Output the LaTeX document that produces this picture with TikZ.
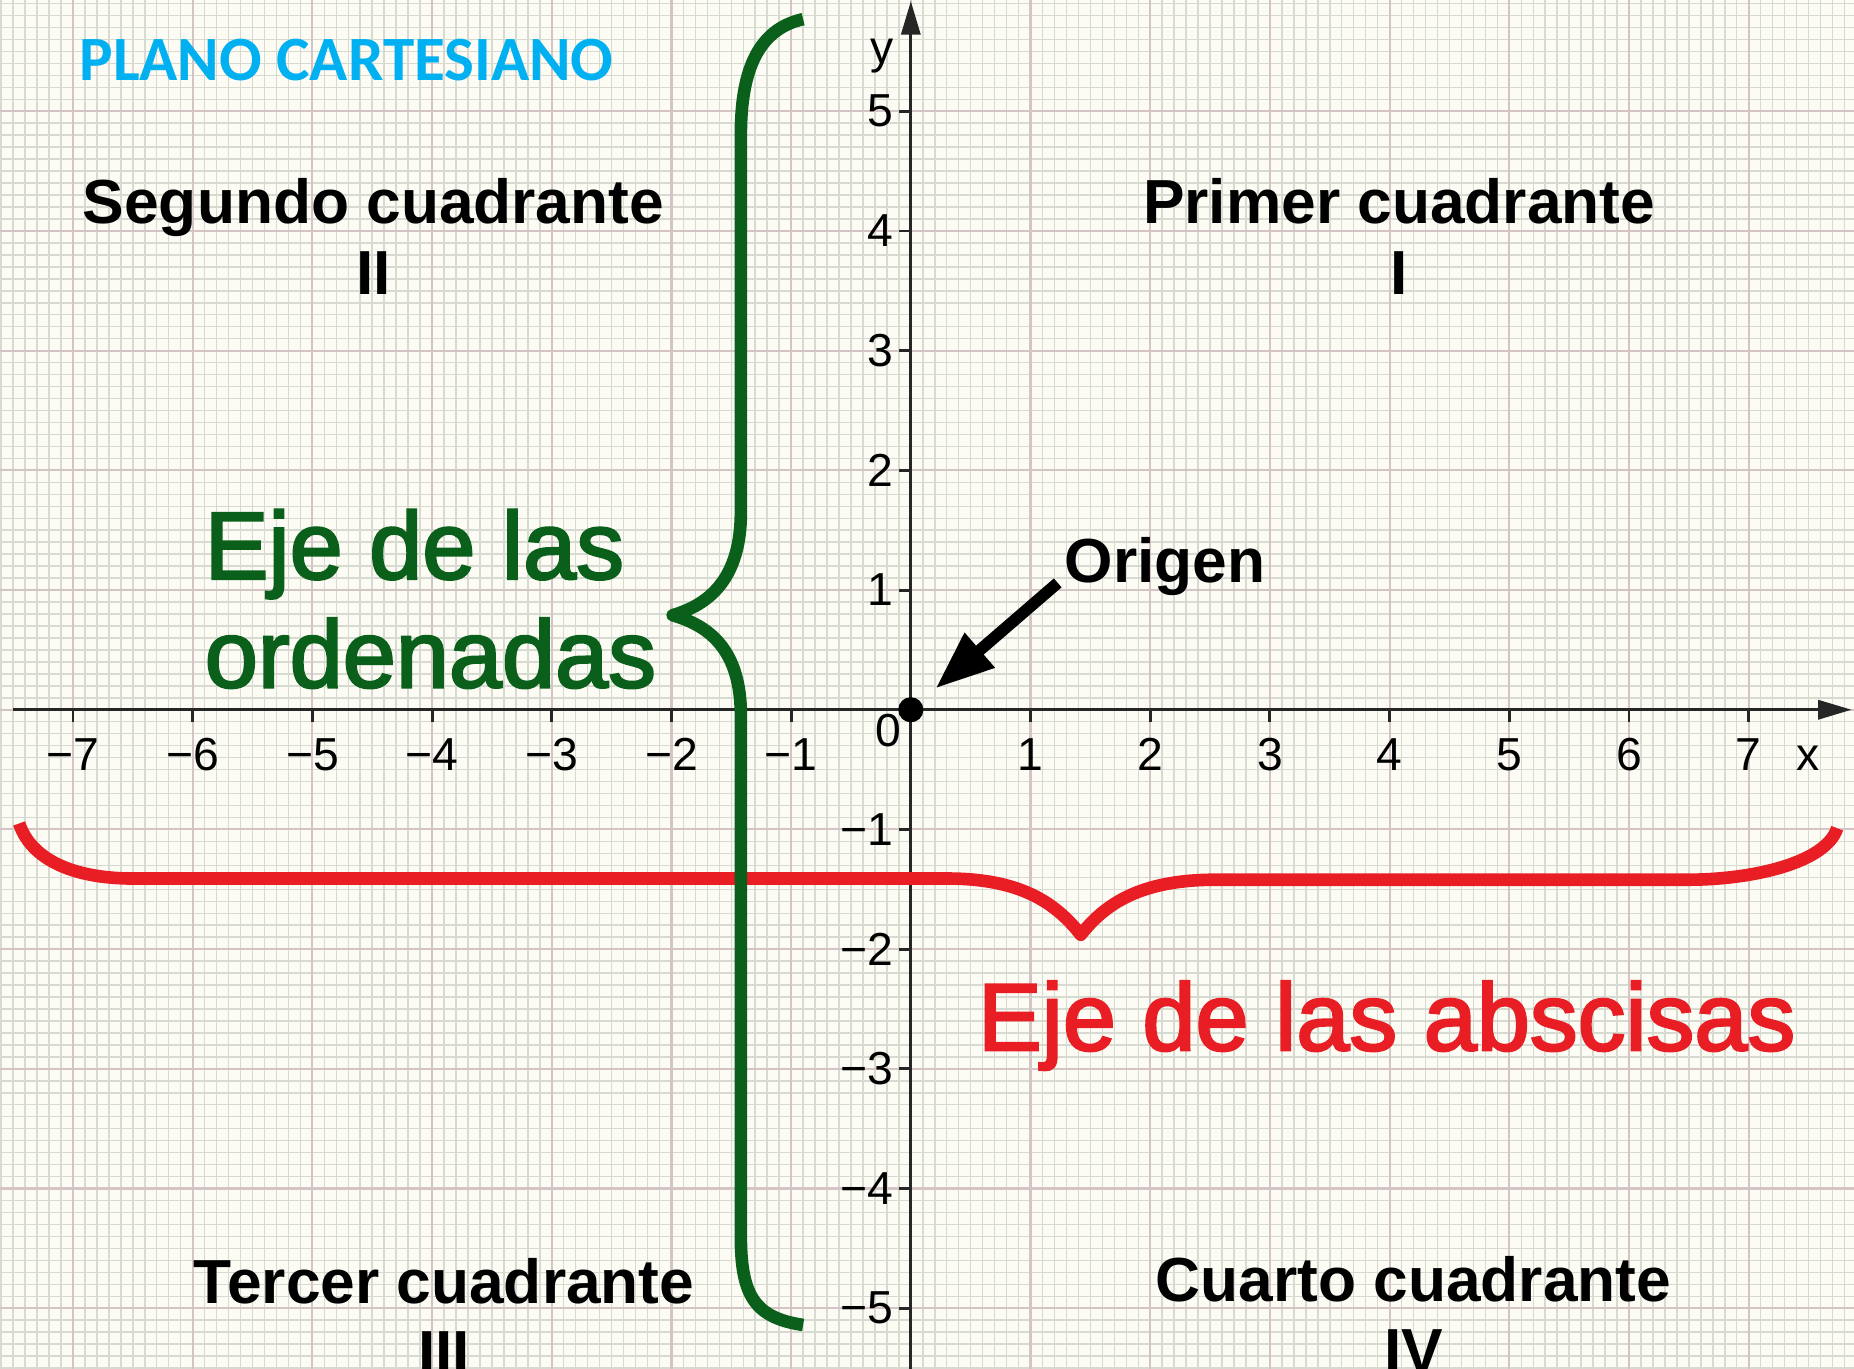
\documentclass[tikz,border=0pt]{standalone}
\usepackage{fontspec}
\setmainfont{Liberation Sans}
\newfontfamily\titlefont{Carlito}
\newfontfamily\axisnamefont[FakeBold=2.5]{Liberation Sans}
\usetikzlibrary{arrows.meta}
\definecolor{paper}{RGB}{252,252,245}
\definecolor{minorline}{RGB}{214,218,208}
\definecolor{majorline}{RGB}{212,196,198}
\definecolor{ordgreen}{RGB}{10,96,26}
\definecolor{absred}{RGB}{232,30,36}
\definecolor{titleblue}{RGB}{0,176,240}
\newcommand{\ticklab}[1]{\ifnum#1<0 −\the\numexpr0-(#1)\relax\else#1\fi}

\begin{document}
\begin{tikzpicture}[minor_grid/.style={draw=minorline, line width=0.35pt},
	major_grid/.style={draw=majorline, line width=0.5pt},
	axis_line/.style={draw=black!85, line width=0.7pt, -{Triangle[length=0.28cm,width=0.16cm]}},
	tick_label/.style={font=\fontsize{11}{13}\selectfont, inner sep=0pt},
	quad_label/.style={font=\fontsize{14.8}{16.8}\selectfont\bfseries, align=center, anchor=north, inner sep=0pt},
	axis_name/.style={font=\axisnamefont\fontsize{22.7}{25.8}\selectfont, inner sep=0pt},
	brace_line/.style={line width=3pt, line join=round}]
				\clip (-7.61,-5.50) rectangle (7.88,5.93);
				\fill[paper] (-7.61,-5.50) rectangle (7.88,5.93);
				\draw[minor_grid] (-7.7,-5.6) grid[step=0.1] (7.9,6);
				\draw[major_grid] (-8,-6) grid[step=1] (8,6);
				
				\coordinate (xstart) at (-7.5,0);
				\coordinate (xend) at (7.86,0);
				\coordinate (ystart) at (0,-5.6);
				\coordinate (yend) at (0,5.92);
				\draw[axis_line] (xstart) -- (xend);
				\draw[axis_line] (ystart) -- (yend);
				
				\foreach \i [count=\k] in {-7,...,-1,1,2,...,7} {
					\draw[black!85, line width=0.7pt] (\i,0) -- (\i,-0.1);
					\node[tick_label, anchor=base] (xl\k) at (\i,-0.505) {\ticklab{\i}};
				}
				\foreach \j [count=\k] in {-5,...,-1,1,2,...,5} {
					\draw[black!85, line width=0.7pt] (0,\j) -- (-0.1,\j);
					\node[tick_label, anchor=east] (yl\k) at (-0.14,\j) {\ticklab{\j}};
				}
				\node[tick_label, anchor=base] (zero) at (-0.19,-0.31) {0};
				\node[tick_label, anchor=base] (xname) at (7.5,-0.505) {x};
				\node[tick_label, anchor=base east] (yname) at (-0.14,5.40) {y};
				
				\draw[brace_line, absred] (-7.45,-0.95) .. controls (-7.35,-1.25) and (-7.0,-1.41) .. (-6.5,-1.41) -- (0.3,-1.41) .. controls (0.9,-1.41) and (1.2,-1.6) .. (1.42,-1.88) .. controls (1.64,-1.6) and (1.95,-1.42) .. (2.55,-1.42) -- (6.5,-1.42) .. controls (7.0,-1.42) and (7.64,-1.29) .. (7.74,-0.99);
				\draw[brace_line, ordgreen] (-0.9,5.77) .. controls (-1.3,5.68) and (-1.42,5.3) .. (-1.42,4.8) -- (-1.42,1.65) .. controls (-1.42,1.1) and (-1.68,0.88) .. (-1.99,0.79) .. controls (-1.68,0.7) and (-1.42,0.5) .. (-1.42,-0.05) -- (-1.42,-4.4) .. controls (-1.42,-4.9) and (-1.3,-5.08) .. (-0.9,-5.14);
				
				\node[circle, fill=black, inner sep=0pt, minimum size=0.21cm] (o) at (0,0) {};
				\node[font=\fontsize{14.8}{16.8}\selectfont\bfseries, anchor=base west, inner sep=0pt] (origen) at (1.28,1.06) {Origen};
				\draw[line width=2.8pt, -{Triangle[length=0.49cm,width=0.36cm]}, shorten >=0.16cm] ([xshift=-1.5pt]origen.base west) -- (o);
				
				\node[font=\titlefont\bfseries\fontsize{15}{18}\selectfont, text=titleblue, inner sep=0pt] (title) at (-4.715,5.43) {PLANO CARTESIANO};
				\node[quad_label] (q2) at (-4.49,4.445) {Segundo cuadrante\\II};
				\node[quad_label] (q1) at (4.08,4.445) {Primer cuadrante\\I};
				\node[quad_label] (q3) at (-3.90,-4.58) {Tercer cuadrante\\III};
				\node[quad_label] (q4) at (4.20,-4.56) {Cuarto cuadrante\\IV};
				\node[axis_name, text=ordgreen, align=left, anchor=north west] (ordname) at (-5.906,1.679) {Eje de las\\ordenadas};
				\node[axis_name, text=absred, anchor=base west] (absname) at (0.554,-2.845) {Eje de las abscisas};
			\end{tikzpicture}
\end{document}
